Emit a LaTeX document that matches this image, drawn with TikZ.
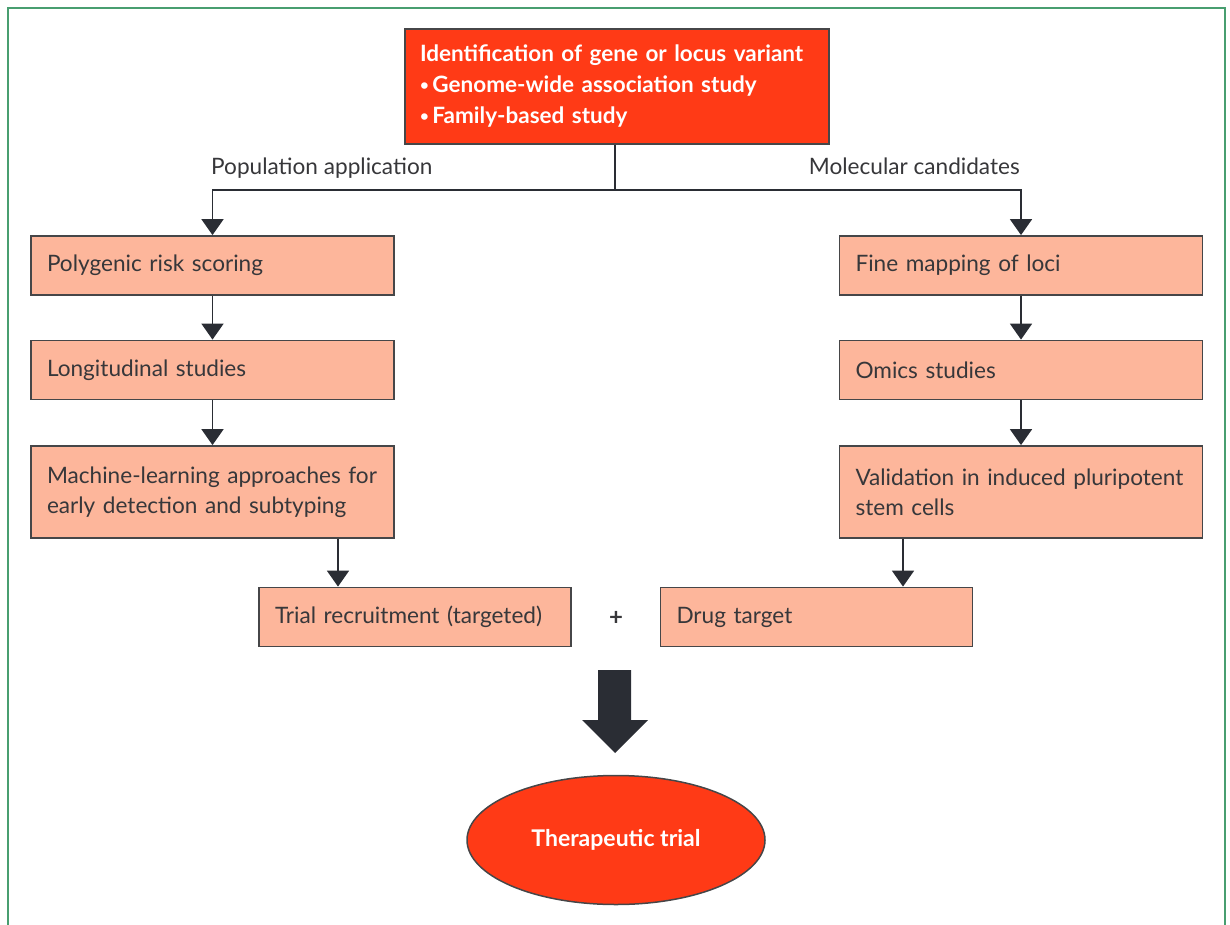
\documentclass[tikz,border=0pt]{standalone}
\usepackage{fontspec}
\setmainfont{Lato}
\usetikzlibrary{arrows.meta,shapes.geometric}
\definecolor{framegreen}{RGB}{72,158,112}
\definecolor{topred}{RGB}{255,58,22}
\definecolor{salmon}{RGB}{253,182,155}
\definecolor{edgegray}{RGB}{70,70,72}
\definecolor{txtgray}{RGB}{55,55,58}
\definecolor{arrowdark}{RGB}{42,45,52}
\newcommand{\smbul}{\raisebox{0.12em}{\fontsize{15}{15}\selectfont\textbullet}\,}
\newcommand{\indt}{\hspace*{12pt}}
\begin{document}
\begin{tikzpicture}[x=1pt,y=-1pt,
  every node/.style={font=\fontsize{22.6}{30}\selectfont, text=txtgray},
  stepbox/.style={draw=edgegray, line width=1.8pt, fill=salmon, rectangle, inner xsep=4pt, inner ysep=0pt, align=left, minimum height=59pt},
  sidebox/.style={stepbox, text width=355pt},
  lowbox/.style={stepbox, text width=304pt},
  link/.style={draw=arrowdark, line width=1.8pt, -{Triangle[width=22pt,length=16pt]}},
  plain/.style={draw=arrowdark, line width=1.8pt},
  lbl/.style={inner sep=0pt}
]
\useasboundingbox (0,0) rectangle (1230,925);
\draw[framegreen, line width=2pt] (8,925) -- (8,8) -- (1225,8) -- (1225,925);

% top box
\node[draw=edgegray, line width=1.8pt, fill=topred, rectangle, minimum width=424pt, minimum height=115pt, inner xsep=15pt, text width=394pt, align=left, text=white, font=\fontsize{22.5}{31}\selectfont\bfseries] (top) at (617,86.5)
 {Identification of gene or locus variant\\
  \smbul Genome-wide association study\\
  \smbul Family-based study};

\coordinate (split) at (615,190);
\node[lbl, anchor=base west] (popl) at (211,175) {Population application};
\node[lbl, anchor=base east] (moll) at (1020,175) {Molecular candidates};

% left column
\node[sidebox] (l1) at (212.5,265.5) {\indt Polygenic risk scoring};
\node[sidebox] (l2) at (212.5,370) {\indt Longitudinal studies};
\node[sidebox, minimum height=92pt] (l3) at (212.5,492) {\indt Machine-learning approaches for\\\indt early detection and subtyping};

% right column
\node[sidebox] (r1) at (1021,265.5) {\indt Fine mapping of loci};
\node[sidebox] (r2) at (1021,370) {\indt Omics studies};
\node[sidebox, minimum height=92pt] (r3) at (1021,492) {\indt Validation in induced pluripotent\\\indt stem cells};

% lower boxes
\node[lowbox] (trial) at (415,617) {\indt Trial recruitment (targeted)};
\node[lowbox] (drug) at (816.5,617) {\indt Drug target};
\node[lbl, font=\fontsize{24}{24}\selectfont\bfseries] (plus) at (616,618) {+};

% ellipse
\node[ellipse, draw=edgegray, line width=1.5pt, fill=topred, minimum width=298pt, minimum height=129pt, text=white, font=\fontsize{23}{24}\selectfont\bfseries] (ther) at (616,840) {Therapeutic trial};

% connectors
\draw[plain] (top.south -| split) -- (split);
\draw[link] (split) -| (l1.north);
\draw[link] (split) -| (r1.north);
\draw[link] (l1) -- (l2);
\draw[link] (l2) -- (l3);
\draw[link] (r1) -- (r2);
\draw[link] (r2) -- (r3);
\coordinate (ax) at (338,0);
\coordinate (bx) at (903,0);
\draw[link] (l3.south -| ax) -- (trial.north -| ax);
\draw[link] (r3.south -| bx) -- (drug.north -| bx);

% big arrow
\fill[arrowdark] (598,670) -- (631,670) -- (631,720) -- (648,720) -- (615,753) -- (582,720) -- (598,720) -- cycle;
\end{tikzpicture}
\end{document}
